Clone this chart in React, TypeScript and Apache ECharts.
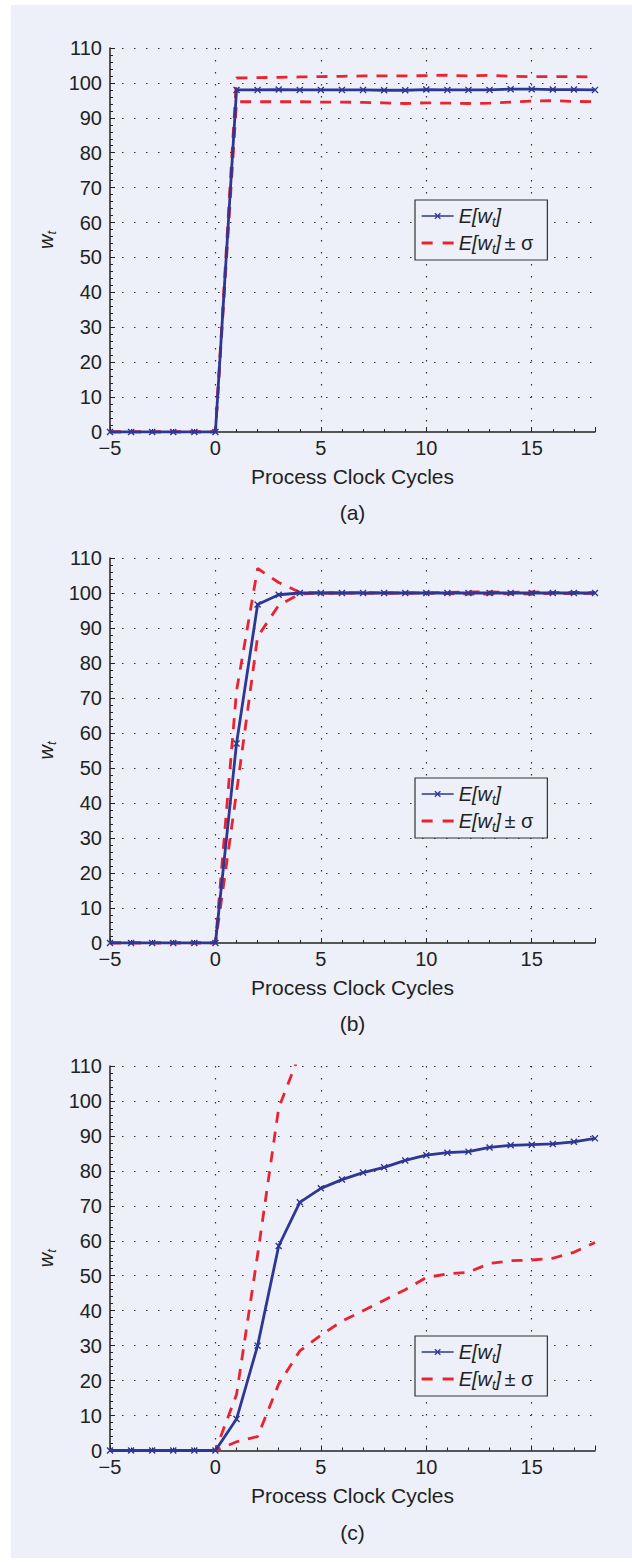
import React, { useEffect, useRef } from "react";
import * as echarts from "echarts";

const T = [-5, -4, -3, -2, -1, 0, 1, 2, 3, 4, 5, 6, 7, 8, 9, 10, 11, 12, 13, 14, 15, 16, 17, 18];

const meanA = [0, 0, 0, 0, 0, 0, 98, 98, 98.1, 98, 98, 98, 98, 97.9, 97.9, 98.1, 98, 98, 98, 98.2, 98.2, 98.1, 98.1, 98];
const upA = [0, 0, 0, 0, 0, 0, 101.4, 101.5, 101.6, 101.7, 101.8, 101.9, 102, 102, 102, 102.1, 102.2, 102, 102.2, 101.9, 101.8, 101.8, 101.8, 101.7];
const loA = [0, 0, 0, 0, 0, 0, 94.6, 94.6, 94.6, 94.6, 94.5, 94.5, 94.4, 94.3, 94.1, 94.3, 94.2, 94.1, 94.2, 94.5, 94.8, 94.9, 94.7, 94.6];

const meanB = [0, 0, 0, 0, 0, 0, 57, 96.7, 99.5, 100, 100, 100, 100, 100, 100, 100, 100, 100, 100, 100, 100, 100, 100, 100];
const upB = [0, 0, 0, 0, 0, 0, 72, 107, 103, 100.2, 100, 100, 100.1, 100, 100, 100, 100.2, 100.3, 100.3, 100.2, 100.3, 100.1, 100.2, 100.1];
const loB = [0, 0, 0, 0, 0, 0, 43, 87.5, 96.5, 99.7, 100, 100, 99.9, 100, 100, 100, 99.8, 99.7, 99.7, 99.8, 99.7, 99.9, 99.8, 99.9];

const meanC = [0, 0, 0, 0, 0, 0, 9, 30, 58.5, 71, 75, 77.5, 79.5, 81, 83, 84.5, 85.2, 85.5, 86.7, 87.3, 87.5, 87.7, 88.3, 89.3];
const upC = [0, 0, 0, 0, 0, 0, 16, 56, 98, 113.5, 117, 118, 119, 119, 120, 119.5, 120, 120, 120, 120.3, 120.5, 120.4, 120, 119];
const loC = [0, 0, 0, 0, 0, 0, 2.5, 4, 19, 28.5, 33, 37, 40, 43, 46, 49.5, 50.5, 51, 53.5, 54.3, 54.5, 55, 56.7, 59.5];

const panels = [
  { mean: meanA, up: upA, lo: loA, caption: "(a)" },
  { mean: meanB, up: upB, lo: loB, caption: "(b)" },
  { mean: meanC, up: upC, lo: loC, caption: "(c)" },
];

const FONT = "'Liberation Sans', Arial, Helvetica, sans-serif";
const BG = "#edf0f8";
const BLUE = "#2e3792";
const RED = "#ea2330";
const INK = "#222222";

const GRID_TOPS = [48, 558, 1066];
const GRID_H = [384, 385, 384.5];
const LEGEND_TOPS = [200, 778, 1336];
const CAPTION_Y = [512, 1023, 1532];

const XMARK = "path://M0,1.4L1.4,0L5,3.6L8.6,0L10,1.4L6.4,5L10,8.6L8.6,10L5,6.4L1.4,10L0,8.6L3.6,5Z";
const DASH_ICON = "path://M0,0H11V3H0ZM21,0H32V3H21Z";

const richText = {
  i: { fontStyle: "italic", fontSize: 20, fontFamily: FONT, color: INK, lineHeight: 24, verticalAlign: "middle" },
  s: { fontStyle: "italic", fontSize: 13, fontFamily: FONT, color: INK, lineHeight: 24, verticalAlign: "bottom" },
  n: { fontSize: 20, fontFamily: FONT, color: INK, lineHeight: 24, verticalAlign: "middle" },
};

export default function App() {
  const ref = useRef<HTMLDivElement>(null);
  useEffect(() => {
    if (!ref.current) return;
    const chart = echarts.init(ref.current, null, { renderer: "svg" });
    const grid: any[] = [];
    const xAxis: any[] = [];
    const yAxis: any[] = [];
    const series: any[] = [];
    const legend: any[] = [];
    const graphic: any[] = [
      { type: "rect", z: -100, silent: true, shape: { x: 11, y: 5, width: 621, height: 1553 }, style: { fill: BG } },
    ];
    panels.forEach((p, i) => {
      grid.push({ left: 110, right: 37, top: GRID_TOPS[i], height: GRID_H[i] });
      xAxis.push({
        type: "value",
        gridIndex: i,
        min: -5,
        max: 18,
        interval: 5,
        name: "Process Clock Cycles",
        nameLocation: "middle",
        nameGap: 34,
        nameTextStyle: { fontSize: 21, color: INK, fontFamily: FONT },
        axisLine: { show: true, onZero: false, lineStyle: { color: INK, width: 1.5 } },
        axisTick: { show: true, inside: true, length: 5, lineStyle: { color: INK, width: 1 } },
        minorTick: { show: true, splitNumber: 5, length: 3, lineStyle: { color: INK, width: 1 } },
        axisLabel: {
          fontSize: 20,
          color: INK,
          fontFamily: FONT,
          margin: 6,
          formatter: (v: number) => (v === 18 ? "" : v < 0 ? "\u2212" + Math.abs(v) : String(v)),
        },
        splitLine: { show: true, showMinLine: false, showMaxLine: false, lineStyle: { type: [1.5, 10.5], color: "#333", width: 1.2 } },
      });
      yAxis.push({
        type: "value",
        gridIndex: i,
        min: 0,
        max: 110,
        interval: 10,
        name: "{i|w}{s|t}",
        nameLocation: "middle",
        nameGap: 39,
        nameRotate: 90,
        nameTextStyle: { rich: richText },
        axisLine: { show: true, onZero: false, lineStyle: { color: INK, width: 1.5 } },
        axisTick: { show: true, inside: true, length: 5, lineStyle: { color: INK, width: 1 } },
        minorTick: { show: true, splitNumber: 5, length: 3, lineStyle: { color: INK, width: 1 } },
        axisLabel: { fontSize: 20, color: INK, fontFamily: FONT, margin: 8 },
        splitLine: { show: true, showMinLine: false, showMaxLine: true, lineStyle: { type: [1.5, 10.5], color: "#333", width: 1.2 } },
      });
      const sigmaStyle = { color: RED, width: 2.8, type: [11, 9] };
      series.push({
        name: "sigma",
        type: "line",
        xAxisIndex: i,
        yAxisIndex: i,
        data: T.map((t, k) => [t, p.up[k]]),
        showSymbol: false,
        symbol: "none",
        lineStyle: sigmaStyle,
        itemStyle: { color: RED },
        z: 2,
      });
      series.push({
        name: "sigma",
        type: "line",
        xAxisIndex: i,
        yAxisIndex: i,
        data: T.map((t, k) => [t, p.lo[k]]),
        showSymbol: false,
        symbol: "none",
        lineStyle: sigmaStyle,
        itemStyle: { color: RED },
        z: 2,
      });
      series.push({
        name: "mean",
        type: "line",
        xAxisIndex: i,
        yAxisIndex: i,
        data: T.map((t, k) => [t, p.mean[k]]),
        showSymbol: true,
        symbol: XMARK,
        symbolSize: 7,
        lineStyle: { color: BLUE, width: 2.8 },
        itemStyle: { color: BLUE },
        z: 3,
      });
      legend.push({
        orient: "vertical",
        left: 415,
        top: LEGEND_TOPS[i],
        padding: [6, 14, 5, 6],
        itemGap: 5,
        itemWidth: 32,
        itemHeight: 8,
        backgroundColor: BG,
        borderColor: "#333",
        borderWidth: 1.2,
        borderRadius: 0,
        lineStyle: { width: 1.3 },
        data: [{ name: "mean" }, { name: "sigma", icon: DASH_ICON }],
        selectedMode: false,
        formatter: (name: string) => (name === "mean" ? "{i|E[w}{s|t}{i|]}" : "{i|E[w}{s|t}{i|]} {n|\u00b1 \u03c3}"),
        textStyle: { rich: richText },
      });
      graphic.push({
        type: "text",
        x: 352.5,
        y: CAPTION_Y[i],
        style: { text: p.caption, font: `21px ${FONT}`, fill: INK, align: "center", verticalAlign: "middle" },
      });
    });
    chart.setOption({
      animation: false,
      backgroundColor: "#ffffff",
      grid,
      xAxis,
      yAxis,
      series,
      legend,
      graphic,
    });
    return () => chart.dispose();
  }, []);
  return <div ref={ref} style={{ position: "absolute", left: 0, top: 0, width: 632, height: 1562 }} />;
}
